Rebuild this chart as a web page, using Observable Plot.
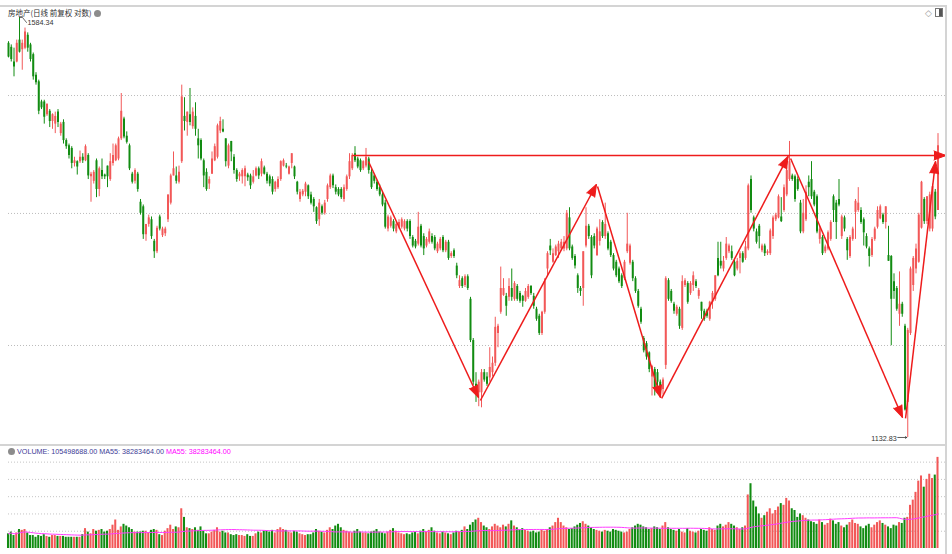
<!DOCTYPE html>
<html><head><meta charset="utf-8">
<script src="https://cdn.jsdelivr.net/npm/d3@7"></script>
<script src="https://cdn.jsdelivr.net/npm/@observablehq/plot@0.6"></script>
<style>
html,body{margin:0;padding:0;background:#fff;}
#wrap{position:relative;width:952px;height:554px;overflow:hidden;font-family:"Liberation Sans",Arial,sans-serif;}
.abs{position:absolute;}
#price{left:0;top:0;}
#vol{left:0;top:445px;}
.frame{left:0;top:5px;width:947px;height:549px;border-top:2px solid #d4d4d4;border-right:2px solid #d4d4d4;box-sizing:border-box;pointer-events:none;}
.sep{left:0;top:444px;width:945px;height:0;border-top:2px solid #d4d4d4;}
#title{left:8px;top:8px;font-family:"Noto Sans CJK SC",sans-serif;font-size:7.5px;color:#333;white-space:nowrap;line-height:9px;}
.icon{display:inline-block;width:7px;height:7px;border-radius:50%;background:#8c8c8c;vertical-align:-1px;margin-left:3px;}
#legend{left:8px;top:447px;font-size:7.2px;line-height:9px;white-space:nowrap;}
#legend .icon{margin-left:0;margin-right:2px;}
#tools{left:925px;top:8px;font-size:9px;color:#999;white-space:nowrap;line-height:9px;}
</style></head>
<body>
<div id="wrap">
  <div id="price" class="abs"></div>
  <div id="vol" class="abs"></div>
  <div class="abs frame"></div>
  <div class="abs sep"></div>
  <div id="title" class="abs">房地产(日线 前复权 对数)<span class="icon"></span></div>
  <div id="tools" class="abs">◇ <span style="display:inline-block;width:6px;height:7px;border:1px solid #777;background:linear-gradient(90deg,#fff 50%,#555 50%);vertical-align:-1px"></span></div>
  <div id="legend" class="abs"></div>
</div>
<script>
// ---- data ----
const open = [
1552,1547,1529,1529,1556,1544,1546,1562,1550,1538,1513,1505,1481,1481,1466,1470,1458,1455,1469,1444,1457,1436,1430,1427,1410,1412,1412,1417,1413,1419,1395,1390,1413,1381,1402,1397,1407,1392,1410,1413,1415,1438,1461,1441,1430,1398,1390,1398,1367,1362,1332,1343,1348,1325,1314,
1351,1331,1333,1348,1366,1396,1396,1389,1412,1464,1457,1466,1452,1464,1438,1436,1413,1400,1387,1398,1413,1417,1447,1449,1438,1407,1435,1417,1402,1395,1395,1395,1397,1396,1389,1396,1404,1398,1405,1398,1395,1392,1381,1383,1392,1407,1407,1398,1410,1406,1389,1370,1375,1378,1385,1375,1370,
1361,1348,1362,1355,1370,1383,1396,1383,1381,1381,1370,1381,1395,1404,1421,1415,1413,1404,1407,1415,1400,1396,1389,1383,1375,1366,1338,1341,1346,1335,1340,1340,1338,1346,1346,1329,1325,1322,1341,1330,1320,1324,1330,1329,1314,1317,1329,1315,1324,1309,1315,1299,1278,1286,1279,1288,1265,1224,1182,1174,1174,1193,
1189,1188,1193,1202,1231,1252,1269,1268,1267,1276,1265,1278,1271,1268,1263,1267,1278,1268,1255,1248,1231,1252,1296,1320,1303,1310,1314,1317,1317,1317,1350,1319,1309,1289,1276,1276,1320,1341,1329,1330,1310,1325,1345,1330,1333,1324,1310,1303,1296,1289,1286,1314,1302,1303,1286,1273,1255,1226,1221,1212,1189,1196,1193,
1184,1177,1200,1284,1273,1260,1250,1255,1236,1279,1281,1271,1279,1283,1268,1262,1253,1253,1245,1262,1265,1307,1304,1296,1307,1314,1314,1303,1296,1307,1312,1307,1317,1392,1350,1335,1341,1315,1320,1312,1312,1330,1348,1350,1351,1358,1375,1392,1396,1395,1392,
1366,1335,1348,1389,1392,1378,1373,1327,1329,1314,1317,1327,1373,1366,1370,1330,1350,1327,1309,1327,1356,1358,1358,1348,1330,1317,1310,1327,1340,1349,1353,1345,1310,1309,1283,1276,1250,1260,1238,1165,1231,1279,1296,1303,1339,1370,1346,1338,1338,1378,1358];
const high = [
1554,1550,1546,1556,1584.34,1556,1571,1565,1552,1540,1516,1507,1483,1483,1479,1472,1467,1469,1472,1457,1460,1438,1432,1429,1417,1413,1424,1421,1431,1421,1400,1402,1415,1406,1415,1398,1407,1421,1432,1432,1440,1491,1463,1446,1432,1400,1404,1400,1370,1364,1343,1353,1351,1327,1341,
1353,1340,1340,1375,1398,1423,1406,1407,1501,1486,1469,1497,1474,1480,1449,1438,1415,1404,1395,1423,1432,1455,1463,1460,1438,1432,1435,1420,1404,1400,1404,1407,1399,1398,1402,1406,1406,1415,1407,1400,1397,1395,1390,1395,1413,1415,1410,1407,1421,1407,1390,1381,1381,1389,1386,1378,1372,
1362,1370,1364,1369,1387,1398,1398,1386,1383,1383,1386,1397,1421,1421,1429,1417,1415,1413,1427,1417,1403,1398,1391,1386,1378,1369,1353,1352,1348,1345,1348,1350,1348,1348,1348,1331,1327,1356,1343,1333,1329,1338,1333,1331,1324,1329,1331,1326,1326,1314,1317,1302,1289,1288,1290,1290,1267,1226,1193,1186,1196,1196,
1193,1217,1208,1247,1240,1298,1286,1271,1286,1296,1283,1280,1273,1269,1276,1280,1279,1271,1257,1250,1253,1286,1314,1327,1317,1321,1325,1327,1330,1358,1361,1321,1311,1291,1278,1314,1361,1343,1331,1333,1340,1348,1347,1366,1335,1326,1312,1305,1298,1291,1305,1355,1322,1305,1288,1275,1257,1228,1223,1213,1200,1198,1196,
1186,1188,1288,1286,1275,1262,1259,1257,1289,1286,1283,1283,1293,1285,1276,1262,1255,1255,1263,1273,1289,1324,1324,1309,1329,1322,1320,1305,1307,1314,1314,1325,1387,1396,1352,1338,1343,1322,1322,1316,1338,1352,1355,1375,1372,1386,1406,1435,1398,1397,1395,
1369,1370,1385,1396,1412,1380,1375,1341,1331,1321,1336,1347,1375,1369,1392,1353,1352,1329,1331,1340,1370,1383,1361,1350,1333,1319,1329,1340,1362,1364,1355,1362,1341,1310,1291,1278,1293,1262,1240,1236,1298,1309,1322,1355,1390,1372,1373,1378,1387,1381,1444];
const low = [
1534,1529,1511,1528,1540,1519,1544,1541,1529,1507,1501,1466,1472,1455,1464,1451,1449,1444,1451,1441,1432,1426,1415,1404,1406,1397,1410,1410,1412,1392,1367,1387,1372,1373,1392,1392,1383,1390,1407,1412,1413,1436,1438,1432,1402,1387,1387,1378,1353,1327,1325,1340,1327,1307,1312,
1336,1329,1330,1345,1364,1396,1387,1387,1410,1447,1441,1453,1449,1441,1415,1413,1383,1379,1381,1398,1412,1415,1444,1445,1406,1404,1412,1398,1389,1390,1387,1384,1390,1381,1387,1395,1392,1395,1397,1387,1384,1375,1378,1381,1390,1406,1404,1397,1404,1392,1375,1367,1373,1373,1370,1364,1356,
1343,1341,1353,1353,1367,1381,1382,1375,1373,1370,1367,1379,1392,1402,1411,1404,1400,1402,1405,1398,1381,1387,1379,1373,1362,1338,1335,1339,1335,1333,1338,1338,1336,1335,1327,1318,1317,1320,1318,1310,1318,1322,1322,1315,1312,1315,1313,1313,1305,1307,1307,1286,1276,1276,1277,1274,1222,1181,1165,1161,1160,1184,
1180,1184,1189,1199,1217,1250,1268,1248,1263,1263,1263,1263,1261,1257,1262,1265,1269,1255,1243,1229,1229,1250,1289,1310,1302,1309,1307,1315,1314,1315,1315,1305,1296,1271,1268,1258,1318,1327,1286,1317,1309,1320,1328,1327,1315,1308,1294,1287,1281,1276,1284,1312,1300,1283,1271,1256,1240,1212,1205,1193,1171,1171,1177,
1171,1172,1196,1263,1261,1250,1248,1235,1234,1277,1260,1269,1273,1276,1265,1245,1243,1246,1243,1255,1263,1288,1296,1293,1305,1312,1305,1288,1294,1291,1302,1305,1315,1355,1335,1322,1317,1313,1309,1310,1310,1327,1346,1349,1345,1356,1373,1390,1390,1367,1379,
1333,1333,1346,1373,1370,1362,1333,1322,1310,1312,1315,1325,1345,1327,1362,1327,1335,1305,1307,1325,1327,1356,1343,1320,1317,1298,1308,1325,1338,1348,1343,1338,1304,1219,1265,1253,1238,1247,1157,1132.83,1229,1273,1291,1302,1338,1343,1343,1335,1335,1348,1358];
const close = [
1535,1532,1523,1552,1541,1552,1566,1546,1532,1511,1504,1470,1474,1463,1478,1458,1466,1464,1457,1455,1436,1429,1419,1410,1413,1406,1417,1413,1429,1396,1398,1400,1381,1404,1395,1395,1395,1412,1419,1430,1438,1470,1440,1434,1404,1389,1402,1381,1355,1332,1343,1350,1330,1314,1339,
1338,1338,1338,1375,1396,1404,1390,1400,1487,1458,1469,1457,1469,1449,1430,1415,1396,1381,1392,1415,1429,1453,1458,1446,1412,1430,1423,1402,1392,1398,1402,1404,1394,1385,1395,1404,1396,1412,1398,1390,1387,1378,1389,1392,1412,1413,1406,1406,1421,1395,1378,1378,1379,1387,1373,1366,1362,
1346,1366,1355,1366,1385,1396,1385,1378,1375,1372,1383,1395,1412,1419,1413,1406,1402,1412,1417,1402,1383,1390,1381,1375,1364,1340,1351,1350,1338,1343,1345,1348,1346,1338,1330,1320,1319,1340,1320,1317,1327,1335,1324,1317,1322,1327,1315,1324,1307,1312,1309,1289,1284,1278,1288,1276,1224,1184,1172,1184,1193,1186,
1182,1198,1202,1237,1238,1276,1276,1258,1278,1267,1281,1265,1263,1263,1273,1278,1271,1258,1245,1231,1252,1283,1312,1315,1312,1319,1322,1324,1324,1355,1317,1307,1299,1276,1273,1314,1341,1330,1289,1320,1338,1335,1330,1343,1317,1310,1296,1289,1283,1278,1303,1322,1320,1286,1273,1258,1242,1214,1208,1196,1199,1177,1184,
1176,1186,1286,1265,1263,1253,1257,1238,1283,1284,1262,1281,1289,1278,1274,1253,1245,1248,1262,1271,1289,1289,1299,1304,1322,1320,1307,1289,1304,1312,1303,1319,1385,1358,1338,1324,1330,1320,1312,1314,1336,1350,1353,1373,1346,1383,1402,1412,1392,1370,1381,
1335,1355,1378,1383,1373,1364,1335,1338,1312,1319,1334,1345,1358,1345,1364,1351,1338,1315,1329,1338,1368,1366,1345,1334,1319,1309,1327,1338,1358,1362,1345,1362,1304,1265,1273,1255,1260,1250,1158,1234,1296,1307,1317,1353,1389,1346,1373,1375,1384,1351,1430];
// volume, millions of shares
const volumeM = [
17,19,15,18,22,21,22,18,15,15, 13,15,14,16,14,13,15,15,14,14, 14,13,13,13,13,13,13,16,23,19, 17,22,20,21,22,19,20,22,27,33,
21,25,28,26,24,22,19,19,19,20, 20,18,21,22,21,16,15,20,23,27, 22,25,24,46,36,24,23,22,24,21, 25,20,17,17,19,21,24,19,20,18,
18,16,15,16,15,15,14,16,14,14, 17,19,18,20,20,19,21,18,22,24, 22,21,19,18,20,19,17,16,15,16, 16,18,22,20,19,18,21,24,22,26,
28,24,21,20,19,18,20,22,19,18, 18,17,19,20,22,19,18,17,19,21, 23,20,18,17,16,17,16,18,19,17, 20,22,19,21,24,20,18,17,19,18,
17,16,18,20,19,21,25,22,27,30, 33,35,30,26,24,22,25,28,26,24, 27,25,28,32,26,24,22,23,21,20, 19,20,18,19,21,20,22,24,26,30,
35,30,26,24,22,23,25,27,29,31, 28,26,24,22,21,20,19,21,20,19, 22,21,20,19,18,19,22,24,26,28, 27,25,24,22,23,25,24,22,26,30,
24,22,21,20,22,19,18,23,20,19, 18,20,22,21,20,24,22,21,26,28, 25,27,30,28,26,24,22,24,26,62, 75,55,48,40,35,38,42,46,40,44,
48,52,50,58,55,46,44,36,40,38, 35,33,31,30,28,33,30,27,29,34, 32,28,30,26,24,27,30,33,29,28, 25,23,26,28,24,27,30,32,29,27,
25,23,27,26,30,29,35,36,50,56, 65,78,84,71,80,86,81,85,105.498688];
// hand-drawn trend lines: [index1, price1, index2, price2]
const trendLines = [
  [125.1, 1419.0, 340.9, 1419.0],
  [130.9, 1412.2, 170.9, 1169.6],
  [171.6, 1166.8, 213.8, 1386.5],
  [214.2, 1384.3, 237.1, 1169.6],
  [237.5, 1168.7, 283.5, 1417.9],
  [284.4, 1415.6, 325.1, 1151.1],
  [326.2, 1150.2, 337.1, 1412.2]
];
const priceGrid = [1488.6, 1354.8, 1219.2];
const volumeGridM = [20, 40, 60, 80, 100];
const legendVolume = 105498688, legendMA55 = 38283464;

// ---- chart ----
const RED = "#f25858", GREEN = "#128c12", LINE_RED = "#ee1c1c";
const W = 952;
const xDomain = [-8 / 2.75, 937 / 2.75];
const yDomain = [1125.6, 1598.3];
const candles = close.map((c, i) => ({i, o: open[i], h: high[i], l: low[i], c, v: volumeM[i] * 1e6, up: c >= open[i]}));
const col = d => d.up ? RED : GREEN;

const xs = Plot.scale({x: {domain: xDomain, range: [0, W - 7]}});
const ys = Plot.scale({y: {type: "log", domain: yDomain, range: [445, 6]}});
const segs = trendLines.map(([x1, y1, x2, y2]) => ({x1, y1, x2, y2}));
const heads = segs.map(s => {
  const dx = xs.apply(s.x2) - xs.apply(s.x1), dy = ys.apply(s.y2) - ys.apply(s.y1);
  return {x: s.x2, y: s.y2, a: Math.atan2(dx, -dy) * 180 / Math.PI};
});
const hiI = d3.maxIndex(high), loI = d3.minIndex(low);
const hx = xs.apply(hiI), hy = ys.apply(high[hiI]);
const pointer = [[hx, hy], [hx + 3, hy], [hx + 7, hy + 5]].map(([px, py]) => ({x: xs.invert(px), y: ys.invert(py)}));
const lx = xs.apply(loI);
const lowArrow = [{x1: xs.invert(lx - 10), x2: xs.invert(lx - 1), y: low[loI]}];

function priceMarks(useSpike) {
  return [
    Plot.ruleY(priceGrid, {x1: 0, x2: xDomain[1], stroke: "#bcbcbc", strokeDasharray: "1,2"}),
    Plot.ruleX(candles, {x: "i", y1: "l", y2: "h", stroke: col, strokeWidth: 1}),
    Plot.ruleX(candles, {x: "i", y1: "o", y2: "c", stroke: col, strokeWidth: 2}),
    Plot.link(segs, {x1: "x1", y1: "y1", x2: "x2", y2: "y2", stroke: LINE_RED, strokeWidth: 1.5}),
    useSpike
      ? Plot.vector(heads, {x: "x", y: "y", rotate: "a", length: 12, shape: "spike", r: 4.5, anchor: "end", fill: LINE_RED, stroke: LINE_RED, strokeWidth: 1})
      : Plot.arrow(segs, {x1: "x1", y1: "y1", x2: "x2", y2: "y2", stroke: LINE_RED, strokeWidth: 2, headLength: 10}),
    Plot.line(pointer, {x: "x", y: "y", stroke: "#444", strokeWidth: 0.8}),
    Plot.text([{x: hiI, y: high[hiI]}], {x: "x", y: "y", text: d => d3.format(".2f")(d.y), dx: 8, dy: 5, textAnchor: "start", fontSize: 7.2, fill: "#333", fontFamily: "Liberation Sans"}),
    Plot.arrow(lowArrow, {x1: "x1", x2: "x2", y1: "y", y2: "y", stroke: "#333", strokeWidth: 0.8, headLength: 3}),
    Plot.text([{x: loI, y: low[loI]}], {x: "x", y: "y", text: d => d3.format(".2f")(d.y), dx: -11, dy: 1.5, textAnchor: "end", fontSize: 7.2, fill: "#333", fontFamily: "Liberation Sans"})
  ];
}
function makePrice(useSpike) {
  return Plot.plot({
    width: W, height: 446, marginLeft: 0, marginRight: 7, marginTop: 6, marginBottom: 1,
    x: {domain: xDomain, axis: null},
    y: {type: "log", domain: yDomain, axis: null},
    marks: priceMarks(useSpike)
  });
}
let price;
try { price = makePrice(true); } catch (e) { price = makePrice(false); }
document.getElementById("price").appendChild(price);

const vol = Plot.plot({
  width: W, height: 109, marginLeft: 0, marginRight: 7, marginTop: 1, marginBottom: 6,
  x: {domain: xDomain, axis: null},
  y: {domain: [0, 118.1e6], axis: null},
  marks: [
    Plot.ruleY(volumeGridM.map(v => v * 1e6), {x1: 0, x2: xDomain[1], stroke: "#c4c4c4", strokeDasharray: "1,2"}),
    Plot.rect(candles, {x1: d => d.i - 0.37, x2: d => d.i + 0.37, y1: 0, y2: "v", fill: col}),
    Plot.lineY(candles, Plot.windowY({k: 55, anchor: "end"}, {x: "i", y: "v", stroke: "#ff3cff", strokeWidth: 1}))
  ]
});
document.getElementById("vol").appendChild(vol);

const f2 = d3.format(".2f");
document.getElementById("legend").innerHTML =
  '<span class="icon"></span><span style="color:#3c3c96">VOLUME: ' + f2(legendVolume) + ' MA55: ' + f2(legendMA55) +
  '</span> <span style="color:#ff00ff">MA55: ' + f2(legendMA55) + '</span>';
</script>
</body></html>
